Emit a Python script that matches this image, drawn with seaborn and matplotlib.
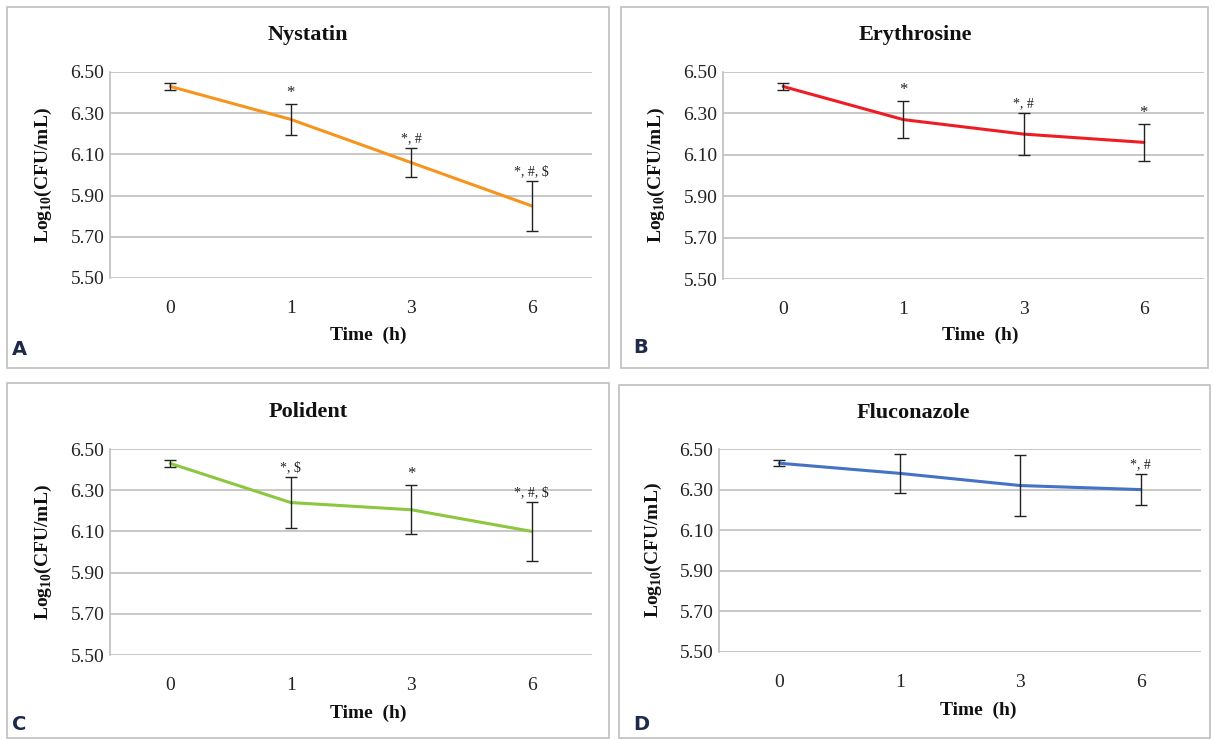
import numpy as np
import pandas as pd
import seaborn as sns
import matplotlib.pyplot as plt
from matplotlib.patches import Rectangle

sns.set_theme(style="white")
plt.rcParams['font.family'] = ['Liberation Serif', 'DejaVu Serif']
plt.rcParams['mathtext.fontset'] = 'custom'
plt.rcParams['mathtext.rm'] = 'Liberation Serif'
plt.rcParams['mathtext.bf'] = 'Liberation Serif:bold'

# ---- data ----
times = ["0", "1", "3", "6"]
titles = ["Nystatin", "Erythrosine", "Polident", "Fluconazole"]
letters = ["A", "B", "C", "D"]
colors = ["#F7941D", "#EE1D23", "#8DC63F", "#4472C4"]

nystatin_mean = [6.43, 6.27, 6.06, 5.85]
nystatin_err = [0.015, 0.075, 0.07, 0.12]
erythrosine_mean = [6.43, 6.27, 6.20, 6.16]
erythrosine_err = [0.015, 0.09, 0.10, 0.09]
polident_mean = [6.43, 6.24, 6.205, 6.10]
polident_err = [0.015, 0.125, 0.12, 0.145]
fluconazole_mean = [6.43, 6.38, 6.32, 6.30]
fluconazole_err = [0.015, 0.095, 0.15, 0.075]

nystatin_sig = ["", "*", "*, #", "*, #, $"]
erythrosine_sig = ["", "*", "*, #", "*"]
polident_sig = ["", "*, $", "*", "*, #, $"]
fluconazole_sig = ["", "", "", "*, #"]

yticks = [5.50, 5.70, 5.90, 6.10, 6.30, 6.50]

means = [nystatin_mean, erythrosine_mean, polident_mean, fluconazole_mean]
errs = [nystatin_err, erythrosine_err, polident_err, fluconazole_err]
sigs = [nystatin_sig, erythrosine_sig, polident_sig, fluconazole_sig]

W, H = 1214, 740
fig = plt.figure(figsize=(W / 100, H / 100), dpi=100)

def fx(x):
    return x / W

def fy(y):
    return 1 - y / H

# axes boxes in pixels: left, right, top(6.50), bottom(5.50)
axes_px = [(110, 592, 72, 278), (723, 1204, 72, 279),
           (110, 592, 449, 655), (719, 1201, 449, 652)]
panels_px = [(7, 609, 7, 368), (621, 1208, 7, 368),
             (7, 609, 383, 738), (619, 1210, 385, 738)]
title_px = [(308, 35), (915, 35), (308, 412), (913, 413)]
xlabel_px = [(368, 335), (980, 335), (368, 713), (978, 710)]
ylabel_px = [(43, 175), (656, 175), (43, 552), (653, 550)]
letter_px = [(12, 355), (633, 353), (12, 730), (633, 730)]

grid_c = "#BFBFBF"

for i in range(4):
    px0, px1, py0, py1 = panels_px[i]
    fig.patches.append(Rectangle((fx(px0), fy(py1)), fx(px1 - px0), (py1 - py0) / H,
                                 transform=fig.transFigure, fill=False,
                                 edgecolor=grid_c, linewidth=1.2))
    l, r, t, b = axes_px[i]
    ax = fig.add_axes([fx(l), fy(b), fx(r - l), (b - t) / H])
    df = pd.DataFrame({"time": times, "mean": means[i], "err": errs[i]})
    sns.lineplot(data=df, x="time", y="mean", ax=ax, color=colors[i],
                 linewidth=2.2, sort=False, zorder=3)
    ax.errorbar(range(len(times)), df["mean"], yerr=df["err"], fmt="none",
                ecolor="#222222", elinewidth=1.0, capsize=4, capthick=1.0, zorder=4)
    for j, s in enumerate(sigs[i]):
        if s:
            ax.annotate(s, (j, means[i][j] + errs[i][j]), xytext=(0, 2),
                        textcoords="offset points", ha="center", va="bottom",
                        fontsize=12 if s == "*" else 10, color="#222222")
    ax.set_xlim(-0.5, 3.5)
    ax.set_ylim(5.50, 6.50)
    ax.set_yticks(yticks)
    ax.set_yticklabels([f"{v:.2f}" for v in yticks])
    ax.set_xticks(range(len(times)))
    ax.set_xticklabels(times)
    ax.tick_params(axis="both", length=0, labelsize=14, colors="#222222")
    ax.tick_params(axis="x", pad=16)
    ax.tick_params(axis="y", pad=4)
    ax.yaxis.grid(True, color=grid_c, linewidth=1.2)
    ax.set_axisbelow(True)
    for sp in ["top", "right", "bottom"]:
        ax.spines[sp].set_visible(False)
    ax.spines["left"].set_color(grid_c)
    ax.spines["left"].set_linewidth(1.2)
    ax.set_xlabel("")
    ax.set_ylabel("")
    ax.set_facecolor("none")

    tx, ty = title_px[i]
    fig.text(fx(tx), fy(ty), titles[i], ha="center", va="center",
             fontsize=16, fontweight="bold", color="#111111")
    lx, ly = xlabel_px[i]
    fig.text(fx(lx), fy(ly), "Time  (h)", ha="center", va="center",
             fontsize=14, fontweight="bold", color="#111111")
    yx, yy = ylabel_px[i]
    fig.text(fx(yx), fy(yy), r"Log$_{\mathbf{10}}$(CFU/mL)", ha="center", va="center",
             rotation=90, fontsize=14, fontweight="bold", color="#111111")
    ax_, ay_ = letter_px[i]
    fig.text(fx(ax_), fy(ay_), letters[i], ha="left", va="baseline",
             fontsize=14, fontweight="bold", color="#1F2A4A",
             family=["DejaVu Sans"])

fig.savefig("out.png", dpi=100, facecolor="white")
